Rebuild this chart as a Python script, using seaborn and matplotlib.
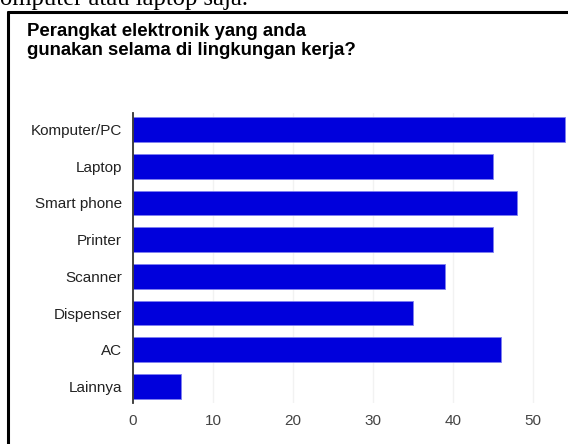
import matplotlib
matplotlib.use("Agg")
import matplotlib.pyplot as plt
import seaborn as sns
import pandas as pd
from matplotlib.lines import Line2D

categories = ["Komputer/PC", "Laptop", "Smart phone", "Printer", "Scanner",
              "Dispenser", "AC", "Lainnya"]
values = [54, 45, 48, 45, 39, 35, 46, 6]
x_ticks = [0, 10, 20, 30, 40, 50]
title_lines = ["Perangkat elektronik yang anda", "gunakan selama di lingkungan kerja?"]

df = pd.DataFrame({"kategori": categories, "jumlah": values})

sns.set_theme(style="white")
plt.rcParams["font.family"] = ["Liberation Sans", "DejaVu Sans"]

W, H = 568, 444
fig = plt.figure(figsize=(W / 100, H / 100), dpi=100)
ax = fig.add_axes([133 / W, 41 / H, 435 / W, 290 / H])

sns.barplot(data=df, y="kategori", x="jumlah", orient="h", color="#0000DC",
            saturation=1, width=0.67, edgecolor="#8080F0", linewidth=0.6, ax=ax)

ax.set_xlim(0, 435 / 8)
ax.set_ylim(7.45, -0.45)
ax.set_xticks(x_ticks)
ax.set_xticklabels([str(t) for t in x_ticks])
ax.grid(axis="x", color="#f2f2f2", linewidth=1)
ax.set_axisbelow(True)
ax.set_xlabel("")
ax.set_ylabel("")
for s in ["top", "right", "bottom"]:
    ax.spines[s].set_visible(False)
ax.spines["left"].set_color("#333333")
ax.spines["left"].set_linewidth(1.3)
ax.tick_params(axis="y", length=0, labelsize=11, labelcolor="#222222", pad=8)
ax.tick_params(axis="x", length=0, labelsize=11, labelcolor="#444444", pad=8)

# title (two lines)
for line, base in zip(title_lines, [36, 55]):
    fig.text(27 / W, 1 - base / H, line, ha="left", va="baseline", fontsize=13.4,
             fontweight="bold", color="#000000")

# cut-off text at top of page
fig.text(0 / W, 1 - 5 / H, "omputer atau laptop saja.", ha="left",
         va="baseline", fontsize=17.7, family=["Liberation Serif"], color="black")

# border box
fig.add_artist(Line2D([8 / W, 8 / W], [0, 1 - 12 / H], transform=fig.transFigure,
                      color="black", linewidth=2.2))
fig.add_artist(Line2D([8 / W, 1], [1 - 12 / H, 1 - 12 / H], transform=fig.transFigure,
                      color="black", linewidth=2.2))

fig.savefig("out.png", dpi=100)
